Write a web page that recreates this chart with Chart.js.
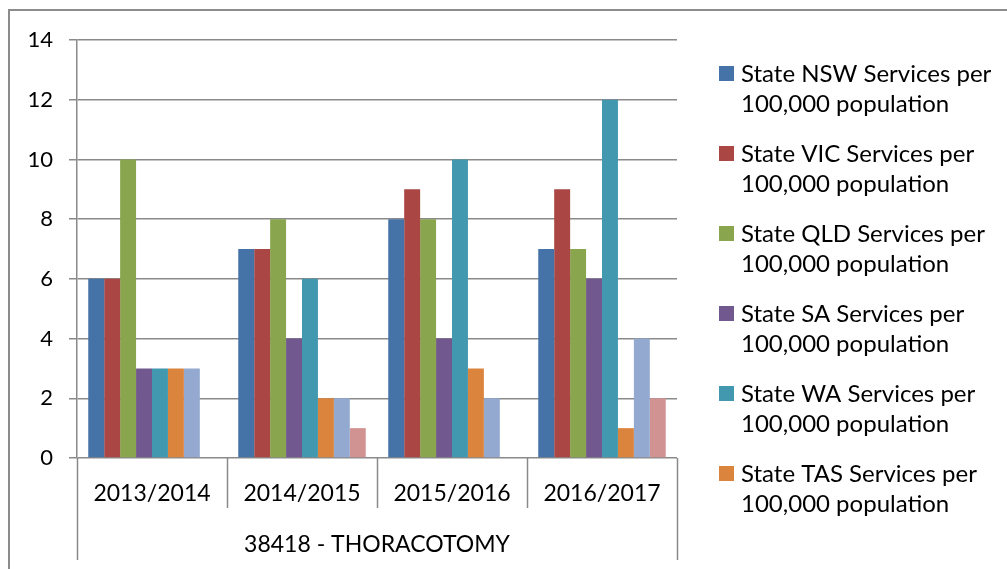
<!DOCTYPE html>
<html>
<head>
<meta charset="utf-8">
<script src="https://cdn.jsdelivr.net/npm/chart.js@4.4.1/dist/chart.umd.min.js"></script>
<style>
  html, body { margin: 0; padding: 0; background: #fff; }
  #wrap { width: 1007px; height: 569px; position: relative; }
</style>
</head>
<body>
<div id="wrap"><canvas id="chart"></canvas></div>
<script>
const categories = ["2013/2014", "2014/2015", "2015/2016", "2016/2017"];
const groupLabel = "38418 - THORACOTOMY";
const seriesNames = [
    "State NSW Services per 100,000 population",
    "State VIC Services per 100,000 population",
    "State QLD Services per 100,000 population",
    "State SA Services per 100,000 population",
    "State WA Services per 100,000 population",
    "State TAS Services per 100,000 population",
    "State ACT Services per 100,000 population",
    "State NT Services per 100,000 population"
];
const nsw = [6, 7, 8, 7];
const vic = [6, 7, 9, 9];
const qld = [10, 8, 8, 7];
const sa = [3, 4, 4, 6];
const wa = [3, 6, 10, 12];
const tas = [3, 2, 3, 1];
const act = [3, 2, 2, 4];
const nt = [0, 1, 0, 2];
const yTicks = [0, 2, 4, 6, 8, 10, 12, 14];

const colors = ["#4572A7", "#AA4643", "#89A54E", "#71588F", "#4198AF", "#DB843D", "#93A9CF", "#D19392"];
const values = [nsw, vic, qld, sa, wa, tas, act, nt];
const FONT = "Lato, 'Noto Sans', sans-serif";
const GRID = "#8a8a8a";

// shown legend entries (the rest is cut off in the original)
const legendCount = 6;

const extras = {
    id: "extras",
    afterDraw(chart) {
        const ctx = chart.ctx;
        const x = chart.scales.x;
        const area = chart.chartArea;
        ctx.save();
        // outer frame
        ctx.strokeStyle = "#8c8c8c";
        ctx.lineWidth = 2;
        ctx.beginPath();
        ctx.moveTo(9, 569);
        ctx.lineTo(9, 10);
        ctx.lineTo(1007, 10);
        ctx.stroke();

        // category separators
        ctx.strokeStyle = GRID;
        ctx.lineWidth = 1.5;
        const n = categories.length;
        const step = (x.right - x.left) / n;
        for (let i = 0; i <= n; i++) {
            const px = Math.round(x.left + i * step) + 0.5;
            const bottom = (i === 0 || i === n) ? area.bottom + 102 : area.bottom + 50;
            ctx.beginPath();
            ctx.moveTo(px, area.bottom);
            ctx.lineTo(px, bottom);
            ctx.stroke();
        }

        // group label
        ctx.fillStyle = "#000";
        ctx.font = "23px " + FONT;
        ctx.textAlign = "center";
        ctx.textBaseline = "middle";
        ctx.fillText(groupLabel, (x.left + x.right) / 2, area.bottom + 87);

        // legend
        ctx.font = "24px " + FONT;
        ctx.textAlign = "left";
        for (let i = 0; i < legendCount; i++) {
            const y0 = 74 + i * 80;
            ctx.fillStyle = colors[i];
            ctx.fillRect(719, y0 - 8, 15, 15);
            ctx.fillStyle = "#000";
            const name = seriesNames[i];
            const cut = name.indexOf("100,000");
            ctx.fillText(name.slice(0, cut).trim(), 741, y0);
            ctx.fillText(name.slice(cut), 741, y0 + 30);
        }
        ctx.restore();
    }
};

new Chart("chart", {
    type: "bar",
    data: {
        labels: categories,
        datasets: values.map((v, i) => ({
            label: seriesNames[i],
            data: v,
            backgroundColor: colors[i],
            borderWidth: 0,
            categoryPercentage: 0.85,
            barPercentage: 1.0
        }))
    },
    options: {
        responsive: true,
        maintainAspectRatio: false,
        animation: false,
        layout: { padding: { top: 40, right: 330, left: 0, bottom: 0 } },
        plugins: {
            legend: { display: false },
            tooltip: { enabled: false }
        },
        scales: {
            x: {
                grid: { display: false },
                border: { display: false },
                ticks: {
                    color: "#000",
                    font: { family: FONT, size: 23 },
                    padding: 14,
                    maxRotation: 0
                },
                afterFit(scale) { scale.height = 111; }
            },
            y: {
                min: 0,
                max: 14,
                afterBuildTicks(scale) { scale.ticks = yTicks.map(v => ({ value: v })); },
                grid: { color: GRID, lineWidth: 1.5, tickLength: 8 },
                border: { display: true, color: GRID, width: 1.5 },
                ticks: {
                    color: "#000",
                    font: { family: FONT, size: 22 },
                    padding: 16
                },
                afterFit(scale) { scale.width = 77; }
            }
        }
    },
    plugins: [extras]
});
</script>
</body>
</html>
